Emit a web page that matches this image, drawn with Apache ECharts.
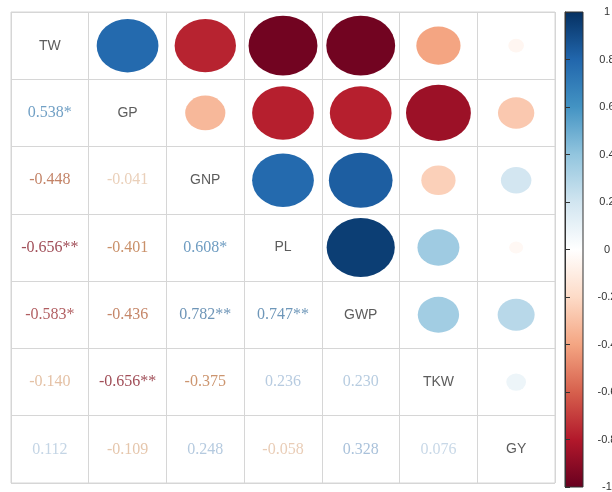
<!DOCTYPE html>
<html>
<head>
<meta charset="utf-8">
<script src="https://cdn.jsdelivr.net/npm/echarts/dist/echarts.min.js"></script>
<style>
html,body{margin:0;padding:0;background:#fff;}
#chart{width:612px;height:492px;}
</style>
</head>
<body>
<div id="chart"></div>
<script>
// ---- data ----
var variables = ['TW', 'GP', 'GNP', 'PL', 'GWP', 'TKW', 'GY'];

// lower triangle: printed coefficients (row i, columns 0..i-1)
var lowerGP  = [0.538];
var lowerGNP = [-0.448, -0.041];
var lowerPL  = [-0.656, -0.401, 0.608];
var lowerGWP = [-0.583, -0.436, 0.782, 0.747];
var lowerTKW = [-0.140, -0.656, -0.375, 0.236, 0.230];
var lowerGY  = [0.112, -0.109, 0.248, -0.058, 0.328, 0.076];
var lowerSig = [
  ['*'],
  ['', ''],
  ['**', '', '*'],
  ['*', '', '**', '**'],
  ['', '**', '', '', ''],
  ['', '', '', '', '', '']
];

// upper triangle: circle coefficients (row i, columns i+1..6)
var upperTW  = [0.78, -0.77, -0.97, -0.97, -0.40, -0.05];
var upperGP  = [-0.33, -0.78, -0.78, -0.86, -0.27];
var upperGNP = [0.78, 0.83, -0.24, 0.19];
var upperPL  = [0.95, 0.36, -0.04];
var upperGWP = [0.35, 0.28];
var upperTKW = [0.08];

var colorbarTicks = [-1, -0.8, -0.6, -0.4, -0.2, 0, 0.2, 0.4, 0.6, 0.8, 1];

// ---- build ----
var lowerRows = [lowerGP, lowerGNP, lowerPL, lowerGWP, lowerTKW, lowerGY];
var upperRows = [upperTW, upperGP, upperGNP, upperPL, upperGWP, upperTKW];
var palette = ['#67001F', '#B2182B', '#D6604D', '#F4A582', '#FDDBC7', '#FFFFFF',
               '#D1E5F0', '#92C5DE', '#4393C3', '#2166AC', '#053061'];

var G = {left: 11, top: 12, width: 544, height: 471};
var n = variables.length;
var cw = G.width / n, ch = G.height / n;

function hex2rgb(h){h=h.replace('#','');return [parseInt(h.substr(0,2),16),parseInt(h.substr(2,2),16),parseInt(h.substr(4,2),16)];}
function interp(stops, v){
  if (v <= stops[0][0]) return stops[0][1];
  for (var k = 1; k < stops.length; k++) {
    if (v <= stops[k][0]) {
      var t = (v - stops[k-1][0]) / (stops[k][0] - stops[k-1][0]);
      var a = hex2rgb(stops[k-1][1]), b = hex2rgb(stops[k][1]);
      return 'rgb(' + a.map(function(x, m){return Math.round(x + (b[m]-x)*t);}).join(',') + ')';
    }
  }
  return stops[stops.length-1][1];
}
var textStops = [[-0.7,'#7a1424'],[-0.6,'#9a3038'],[-0.4,'#bc7444'],[-0.15,'#dcb08c'],[0,'#e8ccb4'],
                 [0.001,'#c4d6e6'],[0.3,'#9cb8d4'],[0.55,'#4a86b6'],[0.8,'#4a7aa4']];

var circleData = [];
upperRows.forEach(function(row, i){
  row.forEach(function(v, k){ circleData.push([i + 1 + k, i, v]); });
});

var textData = [];
lowerRows.forEach(function(row, r){
  var i = r + 1;
  row.forEach(function(v, j){
    textData.push({
      value: [j, i, v],
      text: v.toFixed(3) + lowerSig[r][j],
      label: {color: interp(textStops, v)}
    });
  });
});

var diagData = variables.map(function(name, i){ return {value: [i, i], name: name}; });

var stops = palette.map(function(c, k){ return {offset: 1 - k / (palette.length - 1), color: c}; }).reverse();

var chart = echarts.init(document.getElementById('chart'), null, {renderer: 'canvas'});
chart.setOption({
  animation: false,
  backgroundColor: '#ffffff',
  grid: [
    {left: G.left, top: G.top, width: G.width, height: G.height, show: true,
     containLabel: false, outerBoundsMode: 'none',
     borderColor: '#d6d6d6', borderWidth: 1, backgroundColor: '#fff'},
    {left: 565, top: 12, width: 18, height: 475, show: true,
     containLabel: false, outerBoundsMode: 'none',
     backgroundColor: new echarts.graphic.LinearGradient(0, 0, 0, 1, stops),
     borderColor: '#333', borderWidth: 1}
  ],
  xAxis: [
    {gridIndex: 0, type: 'category', data: variables, axisLabel: {show: false},
     axisLine: {show: false}, axisTick: {show: false},
     splitLine: {show: true, lineStyle: {color: '#d6d6d6', width: 1}}},
    {gridIndex: 1, type: 'value', min: 0, max: 1, show: false}
  ],
  yAxis: [
    {gridIndex: 0, type: 'category', data: variables, inverse: true, axisLabel: {show: false},
     axisLine: {show: false}, axisTick: {show: false},
     splitLine: {show: true, lineStyle: {color: '#d6d6d6', width: 1}}},
    {gridIndex: 1, type: 'value', min: -1, max: 1, interval: 0.2, position: 'right',
     axisLine: {show: true, lineStyle: {color: '#333'}},
     axisTick: {show: true, length: 5, lineStyle: {color: '#333'}},
     splitLine: {show: false},
     axisLabel: {show: true, align: 'center', margin: 24, color: '#333', fontSize: 11,
                 fontFamily: 'Liberation Sans, Arial, sans-serif',
                 formatter: function(v){ return String(+v.toFixed(1)); }}}
  ],
  visualMap: {
    show: false, type: 'continuous', seriesIndex: 0, dimension: 2, min: -1, max: 1,
    inRange: {color: palette}
  },
  series: [
    {
      type: 'scatter', xAxisIndex: 0, yAxisIndex: 0, data: circleData,
      symbol: 'circle',
      symbolSize: function(val){
        var s = 0.9 * Math.sqrt(Math.abs(val[2]));
        return [cw * s, ch * s];
      },
      itemStyle: {opacity: 1}
    },
    {
      type: 'scatter', xAxisIndex: 0, yAxisIndex: 0, data: textData,
      symbolSize: 0,
      label: {show: true, position: 'inside', fontSize: 16,
              fontFamily: 'Liberation Serif, Times New Roman, serif',
              formatter: function(p){ return p.data.text; }}
    },
    {
      type: 'scatter', xAxisIndex: 0, yAxisIndex: 0, data: diagData,
      symbolSize: 0,
      label: {show: true, position: 'inside', fontSize: 14, color: '#333',
              fontFamily: 'Liberation Sans, Arial, sans-serif',
              formatter: function(p){ return p.name; }}
    }
  ]
});
</script>
</body>
</html>
